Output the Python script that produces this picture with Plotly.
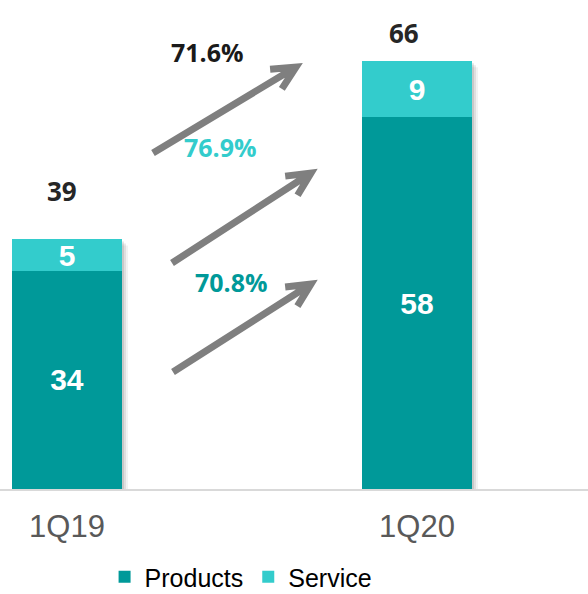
import math
import plotly.graph_objects as go

# ---- data ----
categories = ["1Q19", "1Q20"]
products = [33.8, 57.6]
service = [4.9, 8.7]
products_labels = ["34", "58"]
service_labels = ["5", "9"]
total_labels = ["39", "66"]
growth_labels = ["71.6%", "76.9%", "70.8%"]  # total, service, products

# ---- styling / layout constants ----
W, H = 588, 594
M_T, M_B = 20, 105
PLOT_H = H - M_T - M_B
BASE = H - M_B  # pixel y of baseline
PX_PER_UNIT = 6.45
Y_MAX = PLOT_H / PX_PER_UNIT
C0, SPACING = 67, 350  # pixel x of first category, px between categories
BAR_W = 110 / SPACING

C_PROD = "#009999"
C_SERV = "#33CCCC"
GRAY = "#7f7f7f"

def px2paper(px, py):
    return px / W, (BASE - py) / PLOT_H

fig = go.Figure()
fig.add_trace(go.Bar(
    name="Products", x=categories, y=products, width=BAR_W,
    marker=dict(color=C_PROD, line=dict(width=0)),
    text=products_labels, textposition="inside", insidetextanchor="middle",
    constraintext="none", textangle=0,
    textfont=dict(family="Arial", size=30, color="white", weight="bold"),
    hoverinfo="skip",
))
fig.add_trace(go.Bar(
    name="Service", x=categories, y=service, width=BAR_W,
    marker=dict(color=C_SERV, line=dict(width=0)),
    text=service_labels, textposition="inside", insidetextanchor="middle",
    constraintext="none", textangle=0,
    textfont=dict(family="Arial", size=30, color="white", weight="bold"),
    hoverinfo="skip",
))

annotations = []
# total labels above bars
tot_offsets = [(-5, 48), (-13, 28)]
for i, cat in enumerate(categories):
    tot = products[i] + service[i]
    annotations.append(dict(
        x=i + tot_offsets[i][0] / SPACING, y=tot, xref="x", yref="y",
        text=total_labels[i], showarrow=False, yshift=tot_offsets[i][1],
        font=dict(family="Open Sans", size=26, color="#262626", weight="bold"),
    ))

# growth labels (pixel centers)
growth_pos = [(207, 52), (221, 147), (231, 282)]
growth_colors = ["#1a1a1a", C_SERV, C_PROD]
for lab, (gx, gy), col in zip(growth_labels, growth_pos, growth_colors):
    px, py = px2paper(gx, gy)
    annotations.append(dict(
        x=px, y=py, xref="paper", yref="paper", text=lab, showarrow=False,
        xanchor="center", yanchor="middle",
        font=dict(family="Open Sans", size=25, color=col, weight="bold"),
    ))

shapes = []
# soft bar shadows (decorative)
for i in range(len(categories)):
    tot = products[i] + service[i]
    for off, alpha in [(6, 0.05), (4, 0.08), (2, 0.10)]:
        shapes.append(dict(
            type="rect", xref="x", yref="y", layer="below",
            x0=i - BAR_W / 2 + off / SPACING, x1=i + BAR_W / 2 + off / SPACING,
            y0=-off / PX_PER_UNIT, y1=tot - off / PX_PER_UNIT,
            fillcolor=f"rgba(0,0,0,{alpha})", line=dict(width=0),
        ))

# arrows (decorative) from tail to tip in pixel coords
arrows = [((153, 153), (296, 67)), ((172, 263), (311, 173)), ((173, 372), (311, 284))]
for (tx, ty), (hx, hy) in arrows:
    ang = math.atan2(ty - hy, tx - hx)
    L = 26
    a1 = (hx + L * math.cos(ang + math.radians(26)), hy + L * math.sin(ang + math.radians(26)))
    a2 = (hx + L * math.cos(ang - math.radians(26)), hy + L * math.sin(ang - math.radians(26)))
    pts = [px2paper(tx, ty), px2paper(hx, hy), px2paper(*a1), px2paper(*a2)]
    path = "M {0[0]},{0[1]} L {1[0]},{1[1]} M {2[0]},{2[1]} L {1[0]},{1[1]} L {3[0]},{3[1]}".format(*pts)
    shapes.append(dict(type="path", xref="paper", yref="paper", path=path,
                       line=dict(color=GRAY, width=7)))

fig.update_layout(
    width=W, height=H,
    margin=dict(l=0, r=0, t=M_T, b=M_B, autoexpand=False),
    barmode="stack",
    paper_bgcolor="white", plot_bgcolor="white",
    xaxis=dict(
        range=[-C0 / SPACING, (W - C0) / SPACING],
        showline=True, linecolor="#d9d9d9", linewidth=2,
        showgrid=False, zeroline=False, ticks="", ticklabelstandoff=9,
        tickfont=dict(family="Arial", size=31, color="#595959"),
        fixedrange=True,
    ),
    yaxis=dict(range=[0, Y_MAX], visible=False, fixedrange=True),
    legend=dict(
        orientation="h", traceorder="normal",
        x=0.41, xanchor="center", y=(BASE - 577) / PLOT_H, yanchor="middle",
        font=dict(family="Arial", size=25, color="#000000"),
        itemclick=False, itemdoubleclick=False,
    ),
    annotations=annotations,
    shapes=shapes,
    showlegend=True,
)

fig.write_html("out.html")
